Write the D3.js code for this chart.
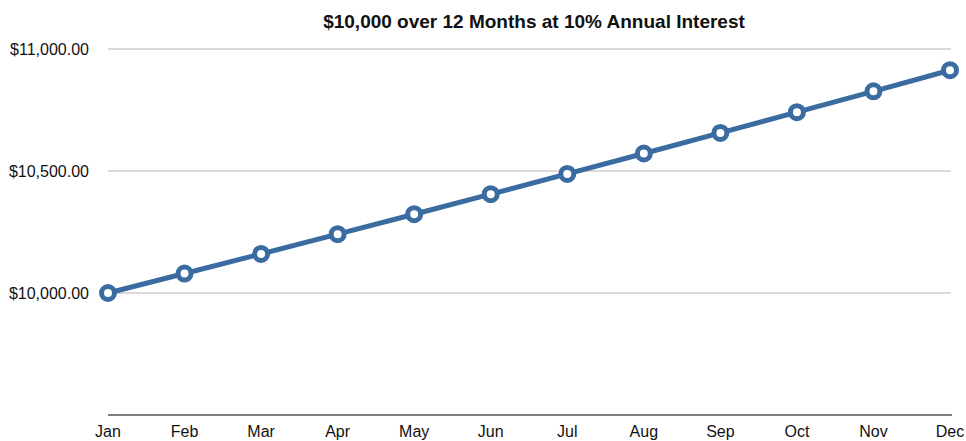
<!DOCTYPE html>
<html lang="en">
	<head>
		<meta charset="UTF-8" />
		<title>$10,000 over 12 Months</title>
		<style>
			body { margin: 0; background: #fff; }
			text { font-family: "Liberation Sans", Helvetica, Arial, sans-serif; fill: #111; }
		</style>
	</head>
	<body>
		<svg id="svg" width="966" height="441"></svg>
		<script src="https://d3js.org/d3.v7.min.js"></script>
		<script>
			const months = ['Jan', 'Feb', 'Mar', 'Apr', 'May', 'Jun', 'Jul', 'Aug', 'Sep', 'Oct', 'Nov', 'Dec'];
			const balance = [10000, 10079.74, 10160.12, 10241.14, 10322.80, 10405.11, 10488.09, 10571.72, 10656.02, 10740.99, 10826.64, 10912.97];
			const yTicks = [10000, 10500, 11000];

			const svg = d3.select('#svg');
			const x = d3.scalePoint().domain(months).range([108, 950]);
			const y = d3.scaleLinear().domain([9500, 11000]).range([415, 49]);
			const fmt = d3.format('$,.2f');

			// gridlines
			svg.selectAll('line.grid')
				.data(yTicks)
				.enter()
				.append('line')
				.attr('x1', 108)
				.attr('x2', 951)
				.attr('y1', (d) => y(d))
				.attr('y2', (d) => y(d))
				.attr('stroke', '#b5b5b5')
				.attr('stroke-width', 1);

			// y labels
			svg.selectAll('text.ylab')
				.data(yTicks)
				.enter()
				.append('text')
				.attr('x', 89)
				.attr('y', (d) => y(d) + 6)
				.attr('text-anchor', 'end')
				.style('font-size', '16px')
				.text((d) => fmt(d));

			// baseline
			svg.append('line')
				.attr('x1', 108)
				.attr('x2', 952)
				.attr('y1', 415)
				.attr('y2', 415)
				.attr('stroke', '#000')
				.attr('stroke-width', 1.2);

			// x labels
			svg.selectAll('text.xlab')
				.data(months)
				.enter()
				.append('text')
				.attr('x', (d) => x(d))
				.attr('y', 437)
				.attr('text-anchor', 'middle')
				.style('font-size', '16px')
				.text((d) => d);

			// title
			svg.append('text')
				.attr('x', 534)
				.attr('y', 28)
				.attr('text-anchor', 'middle')
				.style('font-size', '19px')
				.style('font-weight', 'bold')
				.text('$10,000 over 12 Months at 10% Annual Interest');

			const line = d3.line()
				.x((d, i) => x(months[i]))
				.y((d) => y(d));

			svg.append('path')
				.datum(balance)
				.attr('d', line)
				.attr('fill', 'none')
				.attr('stroke', '#3a6ba1')
				.attr('stroke-width', 5);

			svg.selectAll('circle')
				.data(balance)
				.enter()
				.append('circle')
				.attr('cx', (d, i) => x(months[i]))
				.attr('cy', (d) => y(d))
				.attr('r', 6.5)
				.attr('fill', '#fff')
				.attr('stroke', '#3a6ba1')
				.attr('stroke-width', 5);
		</script>
	</body>
</html>
